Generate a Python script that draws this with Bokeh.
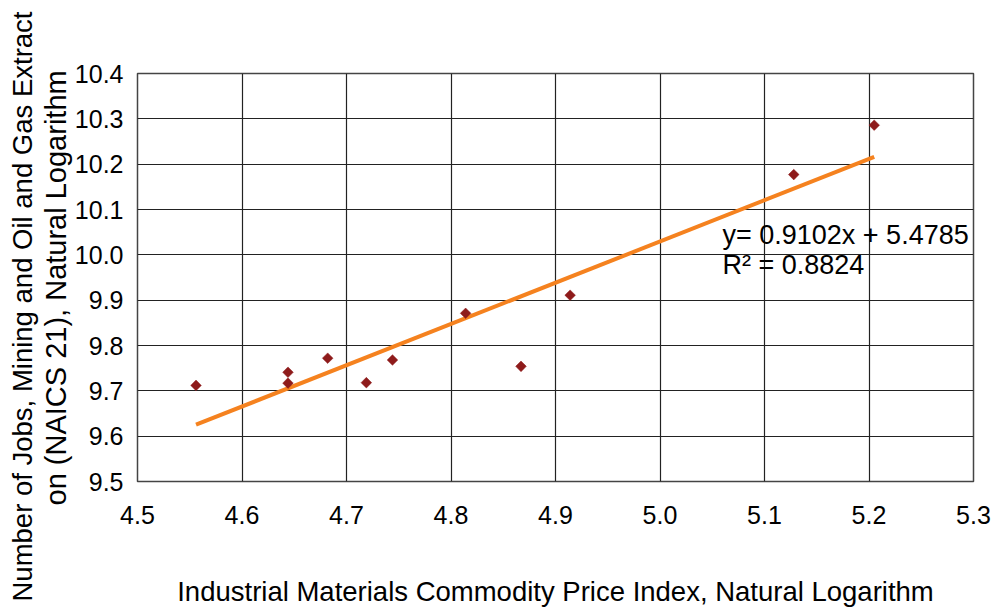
import math
from bokeh.plotting import figure
from bokeh.models import Range1d, FixedTicker, NumeralTickFormatter, Label, Title, ColumnDataSource
from bokeh.embed import file_html
from bokeh.resources import INLINE

# Natural-log observations: commodity price index (x) vs. mining/oil & gas jobs (y)
price_log = [4.556, 4.644, 4.644, 4.682, 4.719, 4.744, 4.814, 4.867, 4.914, 5.128, 5.205]
jobs_log = [9.712, 9.741, 9.717, 9.772, 9.718, 9.768, 9.871, 9.754, 9.911, 10.177, 10.286]

# Fitted linear trend as reported on the chart
slope = 0.9102
intercept = 5.4785
r_squared = 0.8824

x_ticks = [4.5, 4.6, 4.7, 4.8, 4.9, 5.0, 5.1, 5.2, 5.3]
y_ticks = [9.5, 9.6, 9.7, 9.8, 9.9, 10.0, 10.1, 10.2, 10.3, 10.4]

x_title = "Industrial Materials Commodity Price Index, Natural Logarithm"
y_title_1 = "Number of Jobs, Mining and Oil and Gas Extract"
y_title_2 = "on (NAICS 21), Natural Logarithm"

FONT = "Liberation Sans"

p = figure(
    width=1000, height=610,
    x_range=Range1d(x_ticks[0], x_ticks[-1]),
    y_range=Range1d(y_ticks[0], y_ticks[-1]),
    output_backend="svg", toolbar_location=None,
    min_border_left=137, min_border_right=27,
    min_border_top=73, min_border_bottom=129,
)
p.background_fill_color = "white"
p.border_fill_color = "white"
p.outline_line_color = "#444444"
p.outline_line_width = 1.5

# Axes
for ax in (p.xaxis[0], p.yaxis[0]):
    ax.axis_line_color = None
    ax.major_tick_line_color = None
    ax.minor_tick_line_color = None
    ax.major_label_text_font = FONT
    ax.major_label_text_font_size = "25px"
    ax.major_label_text_color = "black"
    ax.formatter = NumeralTickFormatter(format="0.0")

p.xaxis.ticker = FixedTicker(ticks=x_ticks)
p.yaxis.ticker = FixedTicker(ticks=y_ticks)
p.xaxis.major_label_standoff = 18
p.yaxis.major_label_standoff = 8

p.xaxis.axis_label = x_title
p.xaxis.axis_label_text_font = FONT
p.xaxis.axis_label_text_font_size = "27.5px"
p.xaxis.axis_label_text_font_style = "normal"
p.xaxis.axis_label_text_color = "black"
p.xaxis.axis_label_standoff = 49

# Two-line vertical title on the left, outer line added last
for txt, off, fs in ((y_title_2, -24, "29px"), (y_title_1, -120, "27.5px")):
    p.add_layout(Title(text=txt, align="left", offset=off, standoff=0,
                       text_font=FONT, text_font_size=fs,
                       text_font_style="normal", text_color="black"), "left")

# Grid
for g in (p.xgrid[0], p.ygrid[0]):
    g.grid_line_color = "#222222"
    g.grid_line_width = 1.2
p.xgrid.ticker = FixedTicker(ticks=x_ticks)
p.ygrid.ticker = FixedTicker(ticks=y_ticks)

# Trend line across the observed range
x0, x1 = min(price_log), max(price_log)
p.line([x0, x1], [slope * x0 + intercept, slope * x1 + intercept],
       line_color="#F5821F", line_width=4)

# Observations as diamonds
src = ColumnDataSource(dict(x=price_log, y=jobs_log))
p.scatter("x", "y", source=src, marker="square", size=7.5, angle=math.pi / 4,
          fill_color="#8E1B1B", line_color="#8E1B1B", line_width=0.5)

# Regression equation
eq_text = f"y= {slope:.4f}x + {intercept:.4f}"
r2_text = f"R\u00b2 = {r_squared:.4f}"
p.add_layout(Label(x=585, y=247, x_units="screen", y_units="screen", text=eq_text,
                   text_font=FONT, text_font_size="27px", text_color="black",
                   text_baseline="alphabetic", text_align="left"))
p.add_layout(Label(x=585, y=217, x_units="screen", y_units="screen", text=r2_text,
                   text_font=FONT, text_font_size="27px", text_color="black",
                   text_baseline="alphabetic", text_align="left"))

open("out.html", "w").write(file_html(p, INLINE))
